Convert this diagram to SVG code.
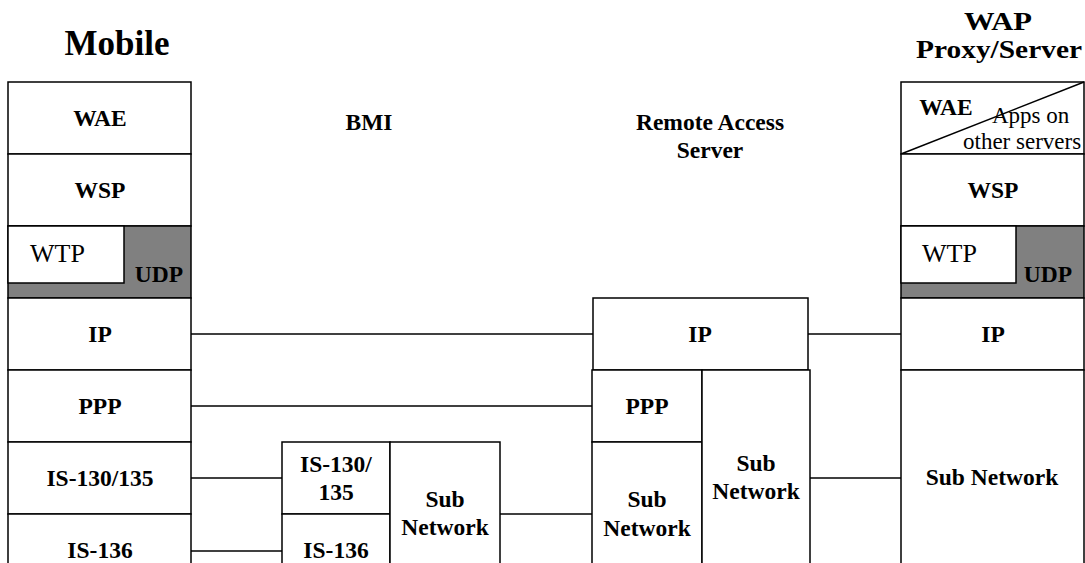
<svg xmlns="http://www.w3.org/2000/svg" width="1085" height="563" viewBox="0 0 1085 563">
<style>
.b{fill:#fff;stroke:#000;stroke-width:1.5}
.g{fill:#808080;stroke:#000;stroke-width:1.5}
.l{stroke:#000;stroke-width:1.5;fill:none}
.t{font-family:"Liberation Serif",serif;font-weight:bold;font-size:23.5px;text-anchor:middle;fill:#000}
.h{font-family:"Liberation Serif",serif;font-weight:bold;text-anchor:middle;fill:#000}
.n{font-family:"Liberation Serif",serif;font-size:26px;fill:#000}
.s{font-family:"Liberation Serif",serif;font-size:23px;fill:#000}
</style>
<rect width="1085" height="563" fill="#fff"/>
<g id="titles">
<text class="h" x="117" y="55" font-size="35">Mobile</text>
<text class="h" x="998" y="30" font-size="25" textLength="68" lengthAdjust="spacingAndGlyphs">WAP</text>
<text class="h" x="999" y="58" font-size="25" textLength="166" lengthAdjust="spacingAndGlyphs">Proxy/Server</text>
<text class="t" x="369" y="130">BMI</text>
<text class="t" x="710" y="130">Remote Access</text>
<text class="t" x="710" y="158">Server</text>
</g>
<g id="mobile">
<rect class="b" x="8" y="82" width="183" height="72"/>
<text class="t" x="100" y="126">WAE</text>
<rect class="b" x="8" y="154" width="183" height="72"/>
<text class="t" x="100" y="198">WSP</text>
<rect class="g" x="8" y="226" width="183" height="72"/>
<rect class="b" x="8" y="226" width="116" height="57"/>
<text class="n" x="30" y="262">WTP</text>
<text class="t" x="159" y="282">UDP</text>
<rect class="b" x="8" y="298" width="183" height="72"/>
<text class="t" x="100" y="342">IP</text>
<rect class="b" x="8" y="370" width="183" height="72"/>
<text class="t" x="100" y="414">PPP</text>
<rect class="b" x="8" y="442" width="183" height="72"/>
<text class="t" x="100" y="486">IS-130/135</text>
<rect class="b" x="8" y="514" width="183" height="60"/>
<text class="t" x="100" y="558">IS-136</text>
</g>
<g id="bmi">
<rect class="b" x="282" y="442" width="108" height="72"/>
<text class="t" x="336" y="472">IS-130/</text>
<text class="t" x="336" y="500">135</text>
<rect class="b" x="282" y="514" width="108" height="60"/>
<text class="t" x="336" y="558">IS-136</text>
<rect class="b" x="390" y="442" width="110" height="132"/>
<text class="t" x="445" y="507">Sub</text>
<text class="t" x="445" y="535">Network</text>
</g>
<g id="ras">
<rect class="b" x="593" y="298" width="215" height="72"/>
<text class="t" x="700" y="342">IP</text>
<rect class="b" x="592" y="370" width="110" height="72"/>
<text class="t" x="647" y="414">PPP</text>
<rect class="b" x="592" y="442" width="110" height="132"/>
<text class="t" x="647" y="507">Sub</text>
<text class="t" x="647" y="536">Network</text>
<rect class="b" x="702" y="370" width="108" height="204"/>
<text class="t" x="756" y="471">Sub</text>
<text class="t" x="756" y="499">Network</text>
</g>
<g id="wap">
<rect class="b" x="901" y="82" width="183" height="72"/>
<line class="l" x1="901" y1="154" x2="1084" y2="82"/>
<text class="t" x="946" y="115">WAE</text>
<text class="s" x="992" y="123">Apps on</text>
<text class="s" x="963" y="149">other servers</text>
<rect class="b" x="901" y="154" width="183" height="72"/>
<text class="t" x="993" y="198">WSP</text>
<rect class="g" x="901" y="226" width="183" height="72"/>
<rect class="b" x="901" y="226" width="115" height="57"/>
<text class="n" x="922" y="262">WTP</text>
<text class="t" x="1048" y="282">UDP</text>
<rect class="b" x="901" y="298" width="183" height="72"/>
<text class="t" x="993" y="342">IP</text>
<rect class="b" x="901" y="370" width="183" height="204"/>
<text class="t" x="992" y="485">Sub Network</text>
</g>
<g id="connectors">
<line class="l" x1="191" y1="334" x2="593" y2="334"/>
<line class="l" x1="808" y1="334" x2="901" y2="334"/>
<line class="l" x1="191" y1="406" x2="592" y2="406"/>
<line class="l" x1="191" y1="478" x2="282" y2="478"/>
<line class="l" x1="191" y1="551" x2="282" y2="551"/>
<line class="l" x1="500" y1="514" x2="592" y2="514"/>
<line class="l" x1="810" y1="478" x2="901" y2="478"/>
</g>
</svg>
